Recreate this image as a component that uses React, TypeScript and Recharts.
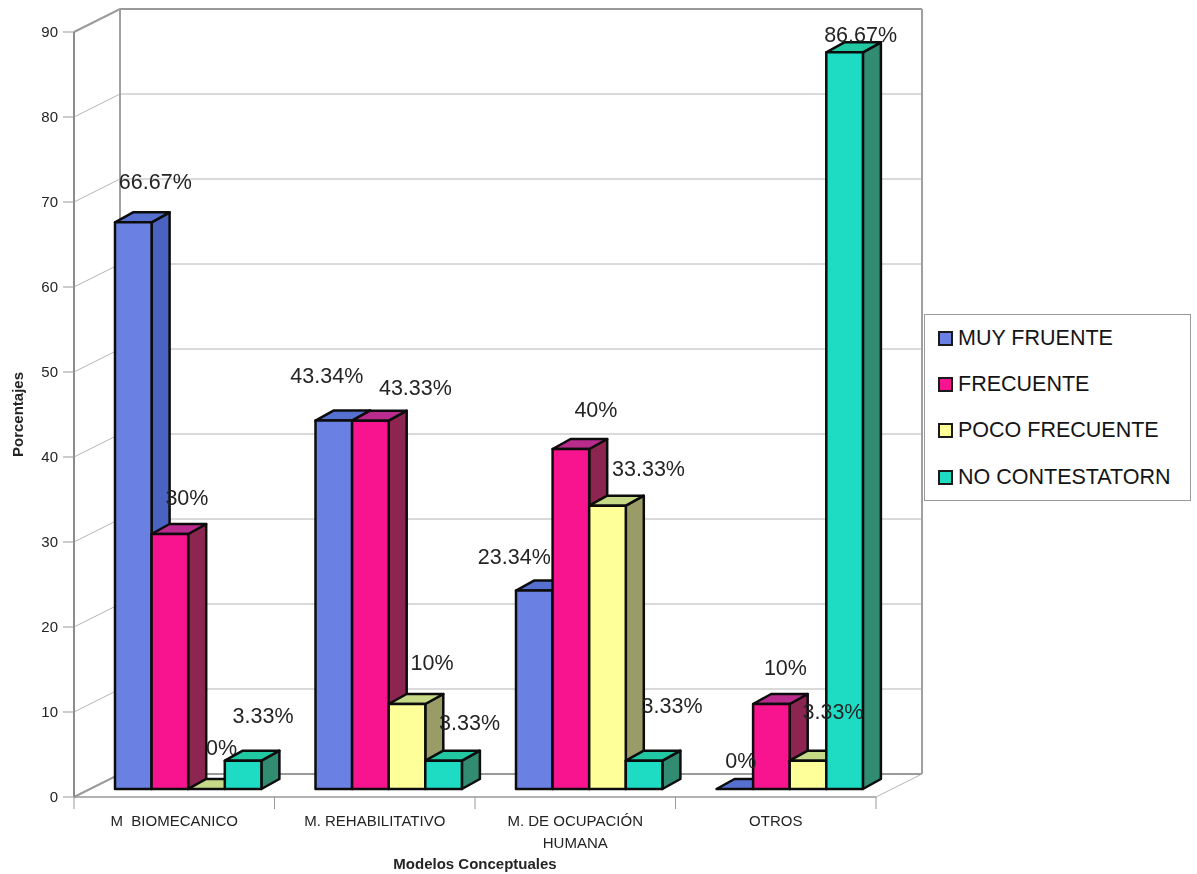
import { Bar, BarChart, CartesianGrid, LabelList, Legend, XAxis, YAxis } from "recharts";

const categories = ["M  BIOMECANICO", "M. REHABILITATIVO", "M. DE OCUPACIÓN|HUMANA", "OTROS"];
const muyFrecuente = [66.67, 43.34, 23.34, 0];
const frecuente = [30, 43.33, 40, 10];
const pocoFrecuente = [0, 10, 33.33, 3.33];
const noContestaron = [3.33, 3.33, 3.33, 86.67];
const valueTicks = [0, 10, 20, 30, 40, 50, 60, 70, 80, 90];

const chartRows = categories.map((name, i) => ({
  name,
  muy: muyFrecuente[i],
  frecuente: frecuente[i],
  poco: pocoFrecuente[i],
  no: noContestaron[i],
}));

const WIDTH = 1197;
const HEIGHT = 874;
const LEFT = 74;
const RIGHT = 876;
const TOP = 32;
const BOTTOM = 797;
const TEXT = "#242424";
const FONT = "'Liberation Sans', Arial, sans-serif";

// the back wall sits up and to the right of the axes
const WALL_DX = 46;
const WALL_DY = -23;
// bars stand part way into the floor
const BAR_DX = 14;
const BAR_DY = -8;
const DEPTH_X = 18;
const DEPTH_Y = -10;

const series = [
  { key: "muy", label: "MUY FRUENTE", front: "#6a80e2", top: "#5670d0", side: "#4a63c0",
    nudge: [[22, -33], [-7, -38], [-20, -27], [6, -21]] },
  { key: "frecuente", label: "FRECUENTE", front: "#f7148e", top: "#b92c8e", side: "#8c2650",
    nudge: [[17, -29], [45, -26], [25, -32], [14, -29]] },
  { key: "poco", label: "POCO FRECUENTE", front: "#ffff99", top: "#c6d987", side: "#9a9c68",
    nudge: [[15, -34], [25, -34], [41, -30], [25, -42]] },
  { key: "no", label: "NO CONTESTATORN", front: "#1edcc4", top: "#22c8a2", side: "#318c72",
    nudge: [[20, -38], [26, -31], [28, -48], [16, -10]] },
];

function Bar3D({ x, y, width, height, colors }: any) {
  const l = x + BAR_DX;
  const r = l + width;
  const t = y + BAR_DY;
  const b = t + height;
  const common = { stroke: "#0c0c0c", strokeWidth: 2.5, strokeLinejoin: "round" as const };
  return (
    <g>
      <path
        d={`M${r},${t} L${r + DEPTH_X},${t + DEPTH_Y} L${r + DEPTH_X},${b + DEPTH_Y} L${r},${b} Z`}
        fill={colors.side}
        {...common}
      />
      <path
        d={`M${l},${t} L${l + DEPTH_X},${t + DEPTH_Y} L${r + DEPTH_X},${t + DEPTH_Y} L${r},${t} Z`}
        fill={colors.top}
        {...common}
      />
      <rect x={l} y={t} width={width} height={height} fill={colors.front} {...common} />
    </g>
  );
}

function GridLine({ x1, x2, y1 }: any) {
  const isFloor = Math.abs(y1 - BOTTOM) < 1;
  const isTop = Math.abs(y1 - TOP) < 1;
  const backY = y1 + WALL_DY;
  return (
    <g fill="none">
      <path
        d={`M${x1},${y1} L${x1 + WALL_DX},${backY} L${x2 + WALL_DX},${backY}`}
        stroke={isTop || isFloor ? "#9a9a9a" : "#b4b4b4"}
        strokeWidth={isTop || isFloor ? 2 : 1}
      />
      {isFloor && (
        <path d={`M${x2},${y1} L${x2 + WALL_DX},${backY}`} stroke="#b4b4b4" strokeWidth={1} />
      )}
      {isTop && (
        <path
          d={`M${x1 + WALL_DX},${backY} V${BOTTOM + WALL_DY} M${x2 + WALL_DX},${backY} V${BOTTOM + WALL_DY}`}
          stroke="#a0a0a0"
          strokeWidth={2}
        />
      )}
    </g>
  );
}

function CategoryTick({ x, y, payload, index }: any) {
  const band = (RIGHT - LEFT) / categories.length;
  const lines = String(payload.value).split("|");
  return (
    <g>
      <line x1={x - band / 2} x2={x - band / 2} y1={BOTTOM} y2={BOTTOM + 12} stroke="#999" />
      {index === categories.length - 1 && (
        <line x1={x + band / 2} x2={x + band / 2} y1={BOTTOM} y2={BOTTOM + 12} stroke="#999" />
      )}
      {lines.map((line, i) => (
        <text
          key={i}
          x={x}
          y={y + 21 + i * 22}
          textAnchor="middle"
          fontFamily={FONT}
          fontSize={15}
          fill={TEXT}
          style={{ whiteSpace: "pre" }}
        >
          {line}
        </text>
      ))}
    </g>
  );
}

function ValueLabel({ x, y, width, value, index, nudge }: any) {
  const [nx, ny] = nudge[index];
  return (
    <text
      x={x + width / 2 + BAR_DX + nx}
      y={y + BAR_DY + ny}
      textAnchor="middle"
      fontFamily={FONT}
      fontSize={21.5}
      fill={TEXT}
    >
      {value}%
    </text>
  );
}

function LegendBox() {
  return (
    <div
      style={{
        boxSizing: "border-box",
        width: 267,
        height: 187,
        border: "1px solid #999",
        background: "#fff",
        padding: "0 0 0 13px",
      }}
    >
      {series.map((s) => (
        <div key={s.key} style={{ display: "flex", alignItems: "center", height: 46.4 }}>
          <span
            style={{
              boxSizing: "border-box",
              width: 15,
              height: 15,
              marginRight: 5,
              background: s.front,
              border: "2.5px solid #1a1a1a",
            }}
          />
          <span style={{ fontFamily: FONT, fontSize: 21.5, color: "#141414", whiteSpace: "nowrap" }}>{s.label}</span>
        </div>
      ))}
    </div>
  );
}

export default function App() {
  return (
    <div style={{ position: "absolute", left: 0, top: 0, width: WIDTH, height: HEIGHT, filter: "blur(0.5px)" }}>
      <BarChart
        width={WIDTH}
        height={HEIGHT}
        data={chartRows}
        margin={{ top: TOP, right: WIDTH - RIGHT, bottom: 0, left: 0 }}
        barSize={36.6}
        barGap={0}
      >
        <CartesianGrid horizontal={(props: any) => <GridLine {...props} />} vertical={false} />
        <XAxis
          dataKey="name"
          height={HEIGHT - BOTTOM}
          interval={0}
          tickLine={false}
          axisLine={{ stroke: "#999", strokeWidth: 1.5 }}
          tick={(props: any) => <CategoryTick {...props} />}
          label={{
            value: "Modelos Conceptuales",
            position: "insideBottom",
            offset: 5,
            fontFamily: FONT,
            fontSize: 15,
            fontWeight: 700,
            fill: TEXT,
          }}
        />
        <YAxis
          width={LEFT}
          domain={[0, 90]}
          ticks={valueTicks}
          interval={0}
          tickSize={11}
          tickMargin={5}
          tickLine={{ stroke: "#999" }}
          axisLine={{ stroke: "#8c8c8c", strokeWidth: 2 }}
          tick={{ fontFamily: FONT, fontSize: 15, fill: TEXT }}
          label={{
            value: "Porcentajes",
            angle: -90,
            position: "insideLeft",
            offset: 18,
            textAnchor: "middle",
            fontFamily: FONT,
            fontSize: 15,
            fontWeight: 700,
            fill: TEXT,
          }}
        />
        {series.map((s) => (
          <Bar
            key={s.key}
            dataKey={s.key}
            name={s.label}
            isAnimationActive={false}
            fill={s.front}
            shape={(props: any) => <Bar3D {...props} colors={s} />}
          >
            <LabelList
              dataKey={s.key}
              content={(props: any) => <ValueLabel {...props} nudge={s.nudge} />}
            />
          </Bar>
        ))}
        <Legend
          layout="vertical"
          align="center"
          verticalAlign="middle"
          content={() => <LegendBox />}
          wrapperStyle={{ position: "absolute", left: 924, top: 314, width: 267, height: 187, margin: 0 }}
        />
      </BarChart>
    </div>
  );
}
